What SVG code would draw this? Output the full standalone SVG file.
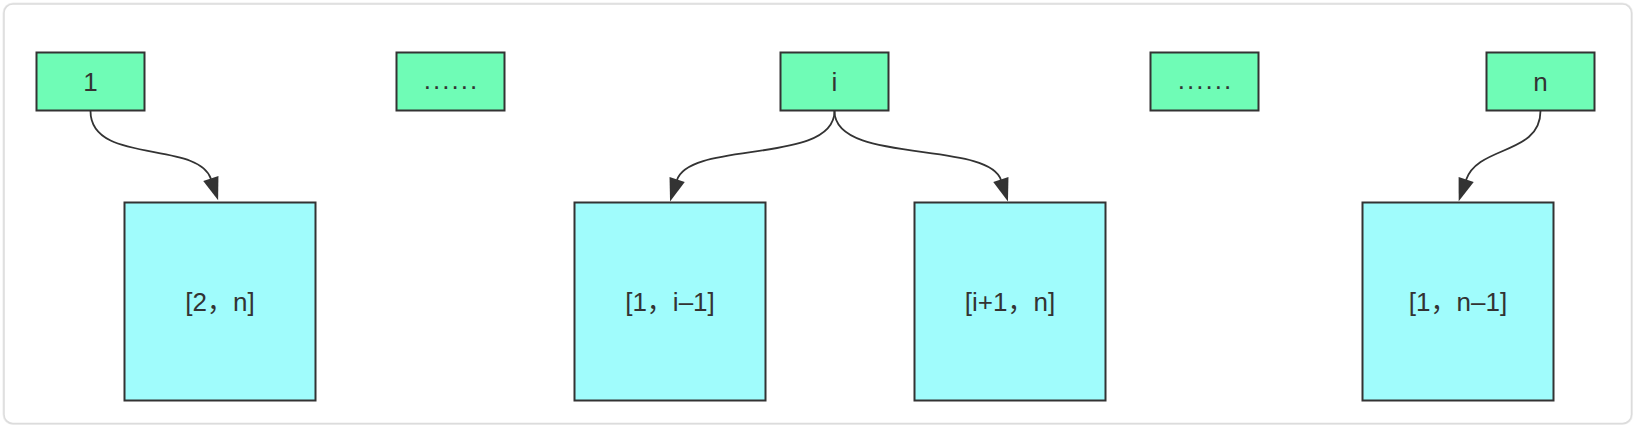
<svg xmlns="http://www.w3.org/2000/svg" width="1636" height="428" viewBox="0 0 1636 428">
  <style>
    .card { fill: #ffffff; stroke: #dcdcdc; stroke-width: 1.5; }
    .green { fill: #6ffcb6; stroke: #333333; stroke-width: 2; }
    .blue { fill: #a0fcfc; stroke: #333333; stroke-width: 2; }
    .label { font-family: "Liberation Sans", "Noto Sans CJK SC", sans-serif; font-size: 26px; fill: #333333; text-anchor: middle; }
    .dots { letter-spacing: 2px; }
    .edge { fill: none; stroke: #333333; stroke-width: 1.8; marker-end: url(#arrow); }
  </style>
  <defs>
    <marker id="arrow" markerUnits="userSpaceOnUse" viewBox="0 0 23 16" markerWidth="23" markerHeight="16" refX="0.5" refY="8" orient="auto" overflow="visible">
      <path d="M0,0 L23,8 L0,16 z" fill="#333333"/>
    </marker>
  </defs>
  <rect x="0" y="0" width="1636" height="428" fill="#ffffff"/>
  <rect x="4" y="4" width="1627.5" height="419.5" rx="9" fill="none" stroke="#eeeeee" stroke-width="3"/>
  <rect class="card" x="4" y="4" width="1627.5" height="419.5" rx="9"/>

  <g id="connectors">
    <path class="edge" d="M90.5 111 C90.5 165, 198 140, 211 179"/>
    <path class="edge" d="M834.5 111 C834.5 165, 690 140, 677 180"/>
    <path class="edge" d="M834.5 111 C834.5 165, 988 140, 1001 180"/>
    <path class="edge" d="M1540.5 111 C1540.5 155, 1478 145, 1466 180"/>
  </g>

  <g id="node-1">
    <rect class="green" x="36.5" y="52.5" width="108" height="58"/>
    <text class="label" x="90.5" y="90.5">1</text>
  </g>
  <g id="node-dots-1">
    <rect class="green" x="396.5" y="52.5" width="108" height="58"/>
    <text class="label dots" x="451.5" y="89">......</text>
  </g>
  <g id="node-i">
    <rect class="green" x="780.5" y="52.5" width="108" height="58"/>
    <text class="label" x="834.5" y="90.5">i</text>
  </g>
  <g id="node-dots-2">
    <rect class="green" x="1150.5" y="52.5" width="108" height="58"/>
    <text class="label dots" x="1205.5" y="89">......</text>
  </g>
  <g id="node-n">
    <rect class="green" x="1486.5" y="52.5" width="108" height="58"/>
    <text class="label" x="1540.5" y="90.5">n</text>
  </g>

  <g id="range-2-n">
    <rect class="blue" x="124.5" y="202.5" width="191" height="198"/>
    <text class="label" x="220" y="310.5">[2，n]</text>
  </g>
  <g id="range-1-i-1">
    <rect class="blue" x="574.5" y="202.5" width="191" height="198"/>
    <text class="label" x="670" y="310.5">[1，i–1]</text>
  </g>
  <g id="range-i+1-n">
    <rect class="blue" x="914.5" y="202.5" width="191" height="198"/>
    <text class="label" x="1010" y="310.5">[i+1，n]</text>
  </g>
  <g id="range-1-n-1">
    <rect class="blue" x="1362.5" y="202.5" width="191" height="198"/>
    <text class="label" x="1458" y="310.5">[1，n–1]</text>
  </g>
</svg>
